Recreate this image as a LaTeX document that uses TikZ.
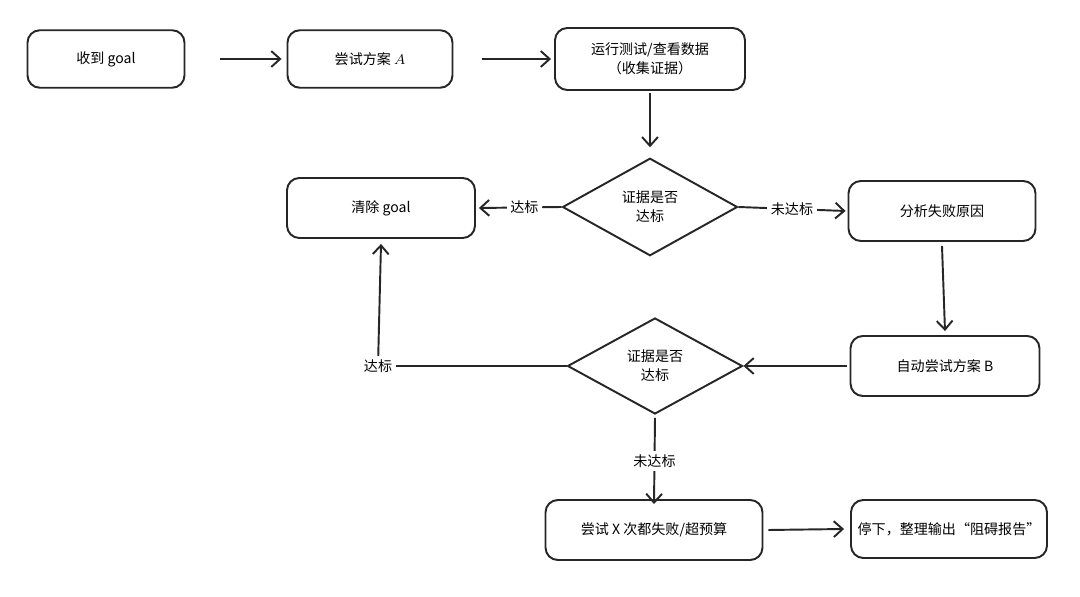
\documentclass[tikz,border=0pt]{standalone}
\usepackage{fontspec}
\setmainfont{Noto Sans CJK SC}
\usetikzlibrary{arrows.meta,shapes.geometric}
\begin{document}
\begin{tikzpicture}[x=0.02cm,y=-0.02cm,
 box/.style={draw=black!85,line width=1.1pt,rounded corners=7pt,minimum height=1.15cm,align=center,font=\fontsize{8}{11}\selectfont,inner sep=2pt},
 dia/.style={draw=black!85,line width=1.1pt,diamond,aspect=1.8,align=center,font=\fontsize{8}{11}\selectfont,minimum width=3.5cm,minimum height=1.95cm,inner sep=0pt},
 arr/.style={draw=black!85,line width=1.1pt,-{Straight Barb[length=5pt,width=9pt]}},
 lbl/.style={fill=white,font=\fontsize{8}{10}\selectfont,inner sep=2pt}]
\useasboundingbox (0,0) rectangle (1080,597);
\node[box,minimum width=3.14cm] (g) at (106,59) {收到 goal};
\node[box,minimum width=3.3cm] (a) at (370,59) {尝试方案 $A$};
\node[box,minimum width=3.8cm,minimum height=1.24cm] (r) at (650,59) {运行测试/查看数据\\（收集证据）};
\node[dia] (d1) at (650,207) {证据是否\\达标};
\node[box,minimum width=3.76cm,minimum height=1.2cm] (c) at (381,208) {清除 goal};
\node[box,minimum width=3.74cm,minimum height=1.2cm] (f) at (942,211) {分析失败原因};
\node[box,minimum width=3.78cm,minimum height=1.2cm] (b) at (945,366) {自动尝试方案 B};
\node[dia,minimum height=1.92cm] (d2) at (655,366) {证据是否\\达标};
\node[box,minimum width=4.34cm,minimum height=1.2cm] (x) at (654,530) {尝试 X 次都失败/超预算};
\node[box,minimum width=3.92cm,minimum height=1.16cm] (s) at (949,529) {停下，整理输出“阻碍报告”};
\coordinate (k) at (378,366);
\draw[arr] ([xshift=0.7cm]g.east) -- ([xshift=-0.1cm]a.west);
\draw[arr] ([xshift=0.58cm]a.east) -- ([xshift=-0.06cm]r.west);
\draw[arr] ([yshift=-0.04cm]r.south) -- ([yshift=0.2cm]d1.north);
\draw[arr] (d1.west) -- node[lbl,pos=0.45]{达标} ([xshift=0.06cm]c.east);
\draw[arr] (d1.east) -- node[lbl,pos=0.5]{未达标} ([xshift=-0.04cm]f.west);
\draw[arr] ([yshift=-0.08cm]f.south) -- ([yshift=0.08cm]b.north);
\draw[arr] ([xshift=-0.06cm]b.west) -- (d2.east);
\draw[draw=black!85,line width=1.1pt] (d2.west) -- (k);
\draw[arr] (k) -- ([yshift=-0.1cm]c.south);
\node[lbl] at (k) {达标};
\draw[arr] ([yshift=-0.06cm]d2.south) -- node[lbl]{未达标} ([yshift=-0.1cm]x.north);
\draw[arr] ([xshift=0.1cm]x.east) -- ([xshift=-0.12cm]s.west);
\end{tikzpicture}
\end{document}
